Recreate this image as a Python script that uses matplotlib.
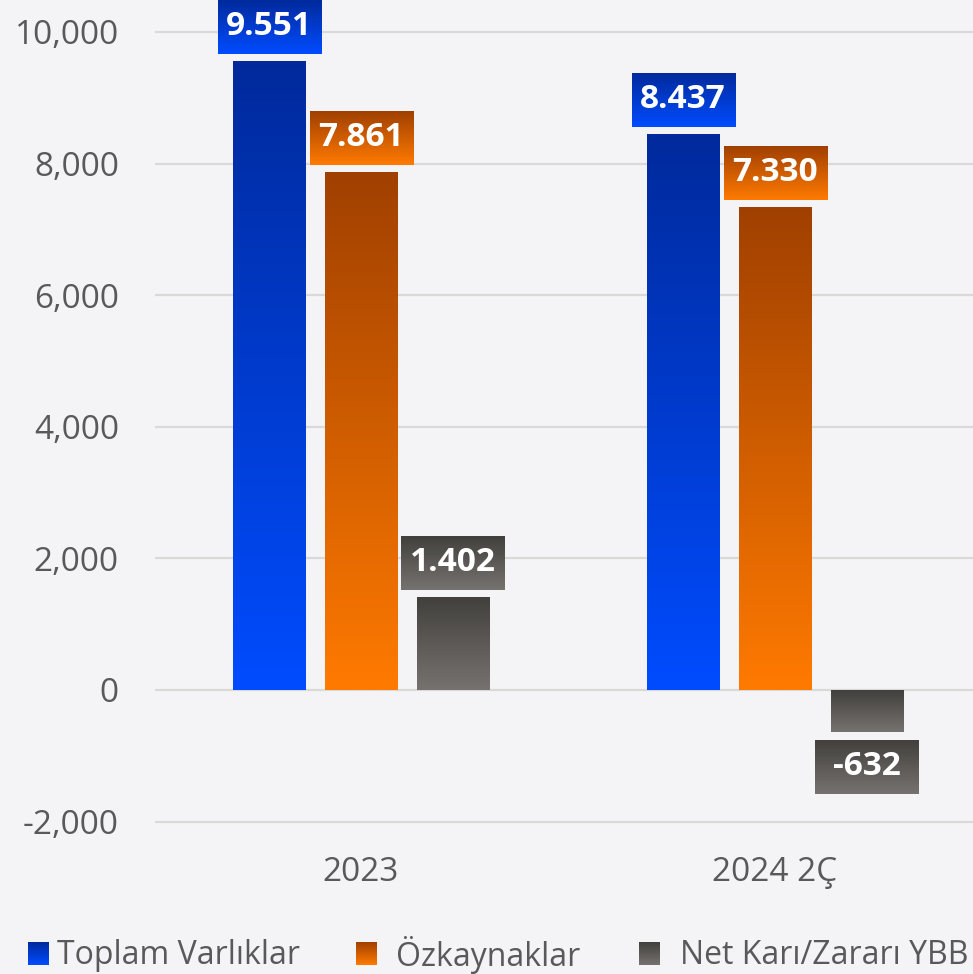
import numpy as np
import matplotlib
matplotlib.use('Agg')
import matplotlib.pyplot as plt
from matplotlib.colors import to_rgb
from matplotlib.ticker import FuncFormatter

# data
categories = ['2023', '2024 2Ç']
series_names = ['Toplam Varlıklar', 'Özkaynaklar', 'Net Karı/Zararı YBB']
toplam_varliklar = [9551, 8437]
ozkaynaklar = [7861, 7330]
net_kar = [1402, -632]
yticks = [-2000, 0, 2000, 4000, 6000, 8000, 10000]

# (top colour, bottom colour) of each gradient
colors = [('#002a9c', '#004cff'), ('#a04000', '#ff7a00'), ('#42403d', '#767270')]
txt_color = '#595959'
bg = '#f4f4f6'

plt.rcParams['font.family'] = ['Open Sans', 'DejaVu Sans']


def gradient(c_top, c_bot, n=256):
    t = np.linspace(0, 1, n)[:, None, None]
    return (1 - t) * np.array(to_rgb(c_top)) + t * np.array(to_rgb(c_bot))


W, H = 973, 974
fig = plt.figure(figsize=(W / 100, H / 100), dpi=100)
fig.patch.set_facecolor(bg)
ax = fig.add_axes([155 / W, 1 - 835 / H, 1 - 155 / W, 835 / H])
ax.set_facecolor(bg)

x = np.arange(len(categories))
bw = 0.176
step = 0.222
px_x = 414.0           # pixels per category
px_y = 131.6 / 2000    # pixels per unit
box_w = 103 / px_x
box_h = 54 / px_y
gap = 8 / px_y

for i, (vals, (ct, cb)) in enumerate(zip([toplam_varliklar, ozkaynaklar, net_kar], colors)):
    bars = ax.bar(x + (i - 1) * step, vals, width=bw, color='none', zorder=3)
    for b, v in zip(bars, vals):
        x0 = b.get_x()
        x1 = x0 + b.get_width()
        y0, y1 = sorted([0, v])
        ax.imshow(gradient(ct, cb), extent=(x0, x1, y0, y1), aspect='auto',
                  zorder=3, interpolation='bilinear')
        xc = x0 + b.get_width() / 2
        if v >= 0:
            by0 = v + gap
            by1 = by0 + box_h
        else:
            by1 = v - gap
            by0 = by1 - box_h
        ax.imshow(gradient(ct, cb), extent=(xc - box_w / 2, xc + box_w / 2, by0, by1),
                  aspect='auto', zorder=4, interpolation='bilinear')
        ax.text(xc, (by0 + by1) / 2, f'{v:,}'.replace(',', '.'), color='white',
                fontsize=24, fontweight='bold', ha='center', va='center', zorder=5)

ax.set_xlim(-0.4976, 1.478)
ax.set_ylim(-2204, 10486)
ax.set_xticks(x, categories)
ax.set_yticks(yticks)
ax.yaxis.set_major_formatter(FuncFormatter(lambda v, p: f'{v:,.0f}'))
ax.tick_params(length=0, labelsize=24, labelcolor=txt_color)
ax.tick_params(axis='y', pad=26)
ax.tick_params(axis='x', pad=15)
ax.yaxis.grid(True, color='#d9d9d9', lw=1.6)
ax.set_axisbelow(True)
for s in ax.spines.values():
    s.set_visible(False)

# legend drawn by hand
leg_mx = [28, 356, 639]
leg_tx = [57, 396, 680]
for name, (ct, cb), mx, tx in zip(series_names, colors, leg_mx, leg_tx):
    lax = fig.add_axes([mx / W, 1 - 965 / H, 21 / W, 23 / H])
    lax.imshow(gradient(ct, cb), aspect='auto', interpolation='bilinear')
    lax.axis('off')
    fig.text(tx / W, 1 - 955 / H, name, fontsize=23, color=txt_color, va='center', ha='left')

fig.savefig('out.png', dpi=100, facecolor=bg)
